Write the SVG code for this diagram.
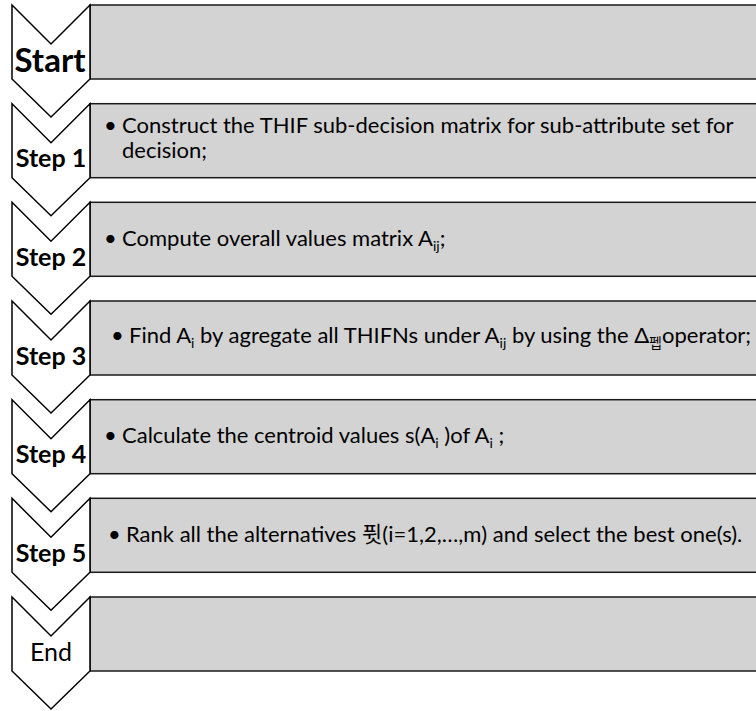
<svg xmlns="http://www.w3.org/2000/svg" width="756" height="711" viewBox="0 0 756 711">
<style>
.chev{fill:#ffffff;stroke:#000000;stroke-width:1.5;stroke-linejoin:miter}
.box{fill:#d3d3d3;stroke:#1a1a1a;stroke-width:1.5}
.lbl{font-family:Lato,"Liberation Sans",sans-serif;font-weight:bold;font-size:25px;text-anchor:middle;fill:#000}
.txt{font-family:Lato,"Liberation Sans","Noto Sans CJK KR",sans-serif;font-size:22px;fill:#000}
.sub{font-size:14px}
</style>
<rect x="0" y="0" width="756" height="711" fill="#ffffff"/>
<g id="start">
<rect class="box" x="90" y="5" width="680" height="74"/>
<path class="chev" d="M12,5 L51,44 L90,5 L90,79 L51,117 L12,79 Z"/>
<text class="lbl" x="50" y="72" style="font-size:33px">Start</text>
</g>
<g id="step1">
<rect class="box" x="90" y="103.7" width="680" height="74"/>
<path class="chev" d="M12,103.7 L51,142.7 L90,103.7 L90,177.7 L51,215.7 L12,177.7 Z"/>
<text class="lbl" x="51" y="167">Step 1</text>
<text class="txt" x="104" y="133">•</text>
<text class="txt" x="122" y="133">Construct the THIF sub-decision matrix for sub-attribute set for</text>
<text class="txt" x="122" y="158">decision;</text>
</g>
<g id="step2">
<rect class="box" x="90" y="202.3" width="680" height="74"/>
<path class="chev" d="M12,202.3 L51,241.3 L90,202.3 L90,276.3 L51,314.3 L12,276.3 Z"/>
<text class="lbl" x="51" y="266">Step 2</text>
<text class="txt" x="104" y="246">•</text>
<text class="txt" x="122" y="246">Compute overall values matrix A<tspan class="sub" dy="5">ij</tspan><tspan dy="-5">;</tspan></text>
</g>
<g id="step3">
<rect class="box" x="90" y="301" width="680" height="74"/>
<path class="chev" d="M12,301 L51,340 L90,301 L90,375 L51,413 L12,375 Z"/>
<text class="lbl" x="51" y="365">Step 3</text>
<text class="txt" x="111" y="343">•</text>
<text class="txt" x="129" y="343">Find A<tspan class="sub" dy="5">i</tspan><tspan dy="-5"> by agregate all THIFNs under A</tspan><tspan class="sub" dy="5">ij</tspan><tspan dy="-5"> by using the Δ</tspan><tspan class="sub" dy="5">펩</tspan><tspan dy="-5">operator;</tspan></text>
</g>
<g id="step4">
<rect class="box" x="90" y="399.7" width="680" height="74"/>
<path class="chev" d="M12,399.7 L51,438.7 L90,399.7 L90,473.7 L51,511.7 L12,473.7 Z"/>
<text class="lbl" x="51" y="463">Step 4</text>
<text class="txt" x="104" y="443">•</text>
<text class="txt" x="122" y="443">Calculate the centroid values s(A<tspan class="sub" dy="5">i</tspan><tspan dy="-5"> )of A</tspan><tspan class="sub" dy="5">i</tspan><tspan dy="-5"> ;</tspan></text>
</g>
<g id="step5">
<rect class="box" x="90" y="498.3" width="680" height="74"/>
<path class="chev" d="M12,498.3 L51,537.3 L90,498.3 L90,572.3 L51,610.3 L12,572.3 Z"/>
<text class="lbl" x="51" y="562">Step 5</text>
<text class="txt" x="108" y="542">•</text>
<text class="txt" x="126" y="542">Rank all the alternatives 퓟(i=1,2,…,m) and select the best one(s).</text>
</g>
<g id="end">
<rect class="box" x="90" y="597" width="680" height="74"/>
<path class="chev" d="M12,597 L51,636 L90,597 L90,671 L51,709 L12,671 Z"/>
<text class="lbl" x="51" y="661" style="font-weight:normal;font-size:25px">End</text>
</g>
<g id="connectors"></g>
</svg>
